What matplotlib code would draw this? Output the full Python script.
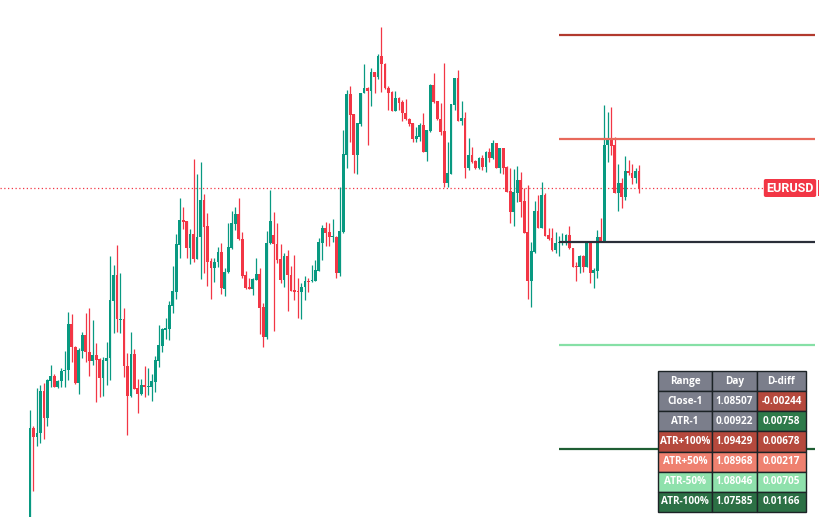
import matplotlib.pyplot as plt
from matplotlib.patches import Rectangle

# EURUSD candles
opens = [1.07260, 1.07679, 1.07639, 1.07656, 1.07843, 1.07723, 1.07888, 1.07910, 1.07861, 1.07888,
         1.07932, 1.07937, 1.08142, 1.08039, 1.07879, 1.08022, 1.08093, 1.08017, 1.07977, 1.08004,
         1.07986, 1.07901, 1.07977, 1.07990, 1.08244, 1.08360, 1.08160, 1.08164, 1.07955, 1.07821,
         1.08008, 1.07857, 1.07830, 1.07870, 1.07861, 1.07861, 1.07884, 1.07977, 1.08044, 1.08115,
         1.08120, 1.08222, 1.08284, 1.08494, 1.08605, 1.08601, 1.08480, 1.08543, 1.08431, 1.08529,
         1.08694, 1.08578, 1.08422, 1.08391, 1.08418, 1.08463, 1.08298, 1.08373, 1.08480, 1.08587,
         1.08632, 1.08520, 1.08360, 1.08307, 1.08298, 1.08338, 1.08365, 1.08218, 1.08084, 1.08503,
         1.08538, 1.08498, 1.08431, 1.08338, 1.08445, 1.08360, 1.08293, 1.08289, 1.08284, 1.08307,
         1.08333, 1.08333, 1.08333, 1.08378, 1.08503, 1.08570, 1.08552, 1.08529, 1.08529, 1.08369,
         1.08552, 1.08895, 1.09166, 1.09077, 1.08895, 1.09033, 1.09171, 1.09193, 1.09180, 1.09264,
         1.09242, 1.09336, 1.09300, 1.09193, 1.09175, 1.09091, 1.09148, 1.09131, 1.09082, 1.09055,
         1.09037, 1.08966, 1.08975, 1.09028, 1.08908, 1.09002, 1.09206, 1.09135, 1.09055, 1.09002,
         1.08770, 1.08810, 1.09117, 1.09238, 1.09046, 1.09060, 1.08837, 1.08895, 1.08868, 1.08837,
         1.08881, 1.08841, 1.08908, 1.08881, 1.08948, 1.08837, 1.08926, 1.08841, 1.08734, 1.08641,
         1.08725, 1.08783, 1.08690, 1.08552, 1.08333, 1.08463, 1.08645, 1.08570, 1.08716, 1.08538,
         1.08525, 1.08472, 1.08503, 1.08503, 1.08503, 1.08538, 1.08480, 1.08400, 1.08396, 1.08445,
         1.08396, 1.08503, 1.08369, 1.08378, 1.08529, 1.08511, 1.08939, 1.08961, 1.08939, 1.08725,
         1.08770, 1.08708, 1.08823, 1.08814, 1.08792, 1.08823]
highs = [1.07759, 1.07688, 1.07857, 1.07870, 1.07879, 1.07897, 1.07959, 1.07919, 1.07892, 1.07946,
         1.08022, 1.08195, 1.08186, 1.08044, 1.08035, 1.08106, 1.08191, 1.08213, 1.08160, 1.08057,
         1.07990, 1.07995, 1.08062, 1.08445, 1.08405, 1.08494, 1.08369, 1.08213, 1.08013, 1.08106,
         1.08031, 1.07897, 1.07897, 1.07955, 1.07946, 1.07919, 1.07999, 1.08137, 1.08124, 1.08169,
         1.08244, 1.08400, 1.08543, 1.08703, 1.08663, 1.08601, 1.08565, 1.08877, 1.08810, 1.08863,
         1.08721, 1.08636, 1.08436, 1.08436, 1.08485, 1.08503, 1.08391, 1.08592, 1.08645, 1.08663,
         1.08703, 1.08552, 1.08378, 1.08347, 1.08347, 1.08436, 1.08391, 1.08235, 1.08556, 1.08739,
         1.08641, 1.08592, 1.08498, 1.08458, 1.08472, 1.08400, 1.08449, 1.08347, 1.08325, 1.08356,
         1.08347, 1.08405, 1.08427, 1.08525, 1.08583, 1.08596, 1.08592, 1.08610, 1.08534, 1.08752,
         1.09006, 1.09184, 1.09202, 1.09077, 1.09037, 1.09171, 1.09300, 1.09198, 1.09282, 1.09264,
         1.09344, 1.09465, 1.09304, 1.09202, 1.09180, 1.09180, 1.09153, 1.09140, 1.09144, 1.09060,
         1.09037, 1.09019, 1.09037, 1.09082, 1.09006, 1.09211, 1.09260, 1.09135, 1.09126, 1.09304,
         1.08952, 1.09122, 1.09238, 1.09273, 1.09135, 1.09086, 1.08970, 1.08930, 1.08872, 1.08886,
         1.08895, 1.08912, 1.08926, 1.08961, 1.08948, 1.08926, 1.08926, 1.08846, 1.08837, 1.08832,
         1.08846, 1.08819, 1.08748, 1.08761, 1.08507, 1.08690, 1.08716, 1.08774, 1.08725, 1.08570,
         1.08570, 1.08552, 1.08534, 1.08547, 1.08543, 1.08578, 1.08480, 1.08418, 1.08449, 1.08449,
         1.08507, 1.08503, 1.08391, 1.08561, 1.08614, 1.09117, 1.09086, 1.09108, 1.08975, 1.08855,
         1.08792, 1.08890, 1.08872, 1.08855, 1.08837, 1.08850]
lows = [1.07233, 1.07398, 1.07598, 1.07612, 1.07630, 1.07688, 1.07861, 1.07861, 1.07857, 1.07861,
        1.07861, 1.07892, 1.07973, 1.07875, 1.07830, 1.07990, 1.07973, 1.07910, 1.07959, 1.07794,
        1.07817, 1.07821, 1.07870, 1.07892, 1.08102, 1.08106, 1.08102, 1.07906, 1.07648, 1.07817,
        1.07852, 1.07746, 1.07826, 1.07817, 1.07826, 1.07799, 1.07839, 1.07950, 1.08017, 1.08075,
        1.08071, 1.08191, 1.08253, 1.08436, 1.08565, 1.08436, 1.08409, 1.08418, 1.08431, 1.08342,
        1.08369, 1.08311, 1.08253, 1.08329, 1.08396, 1.08275, 1.08267, 1.08369, 1.08476, 1.08561,
        1.08516, 1.08347, 1.08298, 1.08298, 1.08271, 1.08338, 1.08097, 1.08039, 1.08075, 1.08498,
        1.08111, 1.08414, 1.08324, 1.08307, 1.08200, 1.08289, 1.08249, 1.08169, 1.08164, 1.08249,
        1.08284, 1.08329, 1.08333, 1.08378, 1.08427, 1.08489, 1.08489, 1.08507, 1.08347, 1.08356,
        1.08547, 1.08837, 1.08952, 1.08814, 1.08810, 1.09024, 1.09171, 1.08939, 1.09113, 1.09171,
        1.09233, 1.09175, 1.09189, 1.09095, 1.09091, 1.09091, 1.09095, 1.09046, 1.09051, 1.09024,
        1.08952, 1.08952, 1.08957, 1.08908, 1.08868, 1.08997, 1.09126, 1.09051, 1.08984, 1.08752,
        1.08752, 1.08810, 1.09095, 1.09046, 1.09028, 1.08792, 1.08828, 1.08859, 1.08832, 1.08832,
        1.08828, 1.08819, 1.08863, 1.08877, 1.08837, 1.08814, 1.08810, 1.08730, 1.08592, 1.08578,
        1.08685, 1.08618, 1.08547, 1.08253, 1.08218, 1.08458, 1.08570, 1.08570, 1.08534, 1.08516,
        1.08467, 1.08458, 1.08445, 1.08494, 1.08494, 1.08476, 1.08396, 1.08333, 1.08369, 1.08373,
        1.08396, 1.08325, 1.08302, 1.08347, 1.08507, 1.08507, 1.08863, 1.08895, 1.08725, 1.08645,
        1.08659, 1.08694, 1.08806, 1.08766, 1.08770, 1.08725]
closes = [1.07679, 1.07639, 1.07656, 1.07843, 1.07723, 1.07892, 1.07910, 1.07861, 1.07888, 1.07932,
          1.07937, 1.08142, 1.08039, 1.07879, 1.08026, 1.08093, 1.08017, 1.07977, 1.08004, 1.07982,
          1.07901, 1.07982, 1.07990, 1.08249, 1.08360, 1.08164, 1.08164, 1.07955, 1.07821, 1.08008,
          1.07852, 1.07830, 1.07870, 1.07861, 1.07866, 1.07888, 1.07982, 1.08048, 1.08120, 1.08124,
          1.08226, 1.08289, 1.08498, 1.08605, 1.08596, 1.08480, 1.08543, 1.08431, 1.08529, 1.08694,
          1.08574, 1.08418, 1.08391, 1.08418, 1.08463, 1.08302, 1.08373, 1.08485, 1.08592, 1.08632,
          1.08520, 1.08356, 1.08302, 1.08298, 1.08342, 1.08365, 1.08213, 1.08084, 1.08503, 1.08601,
          1.08498, 1.08427, 1.08338, 1.08445, 1.08360, 1.08289, 1.08284, 1.08284, 1.08307, 1.08333,
          1.08329, 1.08338, 1.08382, 1.08507, 1.08570, 1.08547, 1.08529, 1.08534, 1.08369, 1.08556,
          1.08899, 1.09166, 1.09073, 1.08895, 1.09037, 1.09171, 1.09193, 1.09180, 1.09264, 1.09242,
          1.09336, 1.09300, 1.09193, 1.09171, 1.09091, 1.09148, 1.09126, 1.09082, 1.09055, 1.09033,
          1.08966, 1.08979, 1.09028, 1.08908, 1.09006, 1.09206, 1.09131, 1.09055, 1.08997, 1.08770,
          1.08814, 1.09122, 1.09238, 1.09046, 1.09060, 1.08837, 1.08895, 1.08863, 1.08837, 1.08881,
          1.08841, 1.08908, 1.08881, 1.08948, 1.08837, 1.08926, 1.08837, 1.08730, 1.08641, 1.08730,
          1.08783, 1.08685, 1.08547, 1.08333, 1.08467, 1.08645, 1.08570, 1.08716, 1.08534, 1.08520,
          1.08472, 1.08503, 1.08507, 1.08507, 1.08538, 1.08480, 1.08396, 1.08396, 1.08445, 1.08396,
          1.08503, 1.08369, 1.08382, 1.08529, 1.08511, 1.08939, 1.08961, 1.08935, 1.08725, 1.08770,
          1.08708, 1.08823, 1.08814, 1.08792, 1.08823, 1.08748]

# daily range table
range_names = ["Close-1", "ATR-1", "ATR+100%", "ATR+50%", "ATR-50%", "ATR-100%"]
day_values = ["1.08507", "0.00922", "1.09429", "1.08968", "1.08046", "1.07585"]
ddiff_values = ["-0.00244", "0.00758", "0.00678", "0.00217", "0.00705", "0.01166"]
level_names = ["Close-1", "ATR+100%", "ATR+50%", "ATR-50%", "ATR-100%"]
levels = [1.08507, 1.09429, 1.08968, 1.08046, 1.07585]
symbol = "EURUSD"

up_col = "#089981"
down_col = "#f23645"
level_cols = {"Close-1": "#2a2e39", "ATR+100%": "#b23a2e", "ATR+50%": "#e8695b",
              "ATR-50%": "#86e0a6", "ATR-100%": "#1f5e33"}
gray = "#7b7e8b"
row_cols = [None, None, "#b5493d", "#ef8170", "#8fe1ac", "#2c7045"]
ddiff_cols = ["#b5493d", "#2e7a4a", "#b5493d", "#ef8170", "#8fe1ac", "#2c7045"]

fig = plt.figure(figsize=(8.2, 5.17), dpi=100)
ax = fig.add_axes([0, 0, 1, 1])
ax.set_axis_off()

n = len(closes)
x = list(range(n))
cols = [up_col if c >= o else down_col for o, c in zip(opens, closes)]
bottoms = [min(o, c) for o, c in zip(opens, closes)]
heights = [max(abs(c - o), 0.00003) for o, c in zip(opens, closes)]

ax.vlines(x, lows, highs, colors=cols, linewidth=0.9, zorder=2)
ax.bar(x, heights, bottom=bottoms, width=0.8, color=cols, linewidth=0, zorder=3)

ax.set_xlim(-8.62, 227.0)
ax.set_ylim(1.07282, 1.09585)

# daily levels
for name, lv in zip(level_names, levels):
    ax.hlines(lv, 152.0, 225.6, colors=level_cols[name], linewidth=1.6, zorder=4)

# last price line + label
last = closes[-1]
ax.hlines(last, -8.62, 211.2, colors=down_col, linestyles=(0, (1, 2)), linewidth=0.9, zorder=1)
fig.text(790 / 820, 1 - 188 / 517, symbol, ha="center", va="center", color="white",
         fontsize=9, fontweight="bold", fontfamily="Roboto",
         bbox=dict(boxstyle="round,pad=0.2,rounding_size=0.15", facecolor=down_col, edgecolor="none"))
fig.patches.append(Rectangle((818 / 820, 1 - 196 / 517), 4 / 820, 16 / 517,
                             transform=fig.transFigure, facecolor=down_col, edgecolor="none"))

# table
col_edges = [658, 712, 757, 806]
top = 371
rh = 20.15
header = ["Range", "Day", "D-diff"]
rows = [header] + [[a, b, c] for a, b, c in zip(range_names, day_values, ddiff_values)]
for r, row in enumerate(rows):
    for c, txt in enumerate(row):
        if r == 0:
            fc = gray
        else:
            rc = row_cols[r - 1]
            if c == 2:
                fc = ddiff_cols[r - 1]
            else:
                fc = rc if rc else gray
        x0 = col_edges[c]
        w = col_edges[c + 1] - x0
        y0 = top + r * rh
        fig.patches.append(Rectangle((x0 / 820, 1 - (y0 + rh) / 517), w / 820, rh / 517,
                                     transform=fig.transFigure, facecolor=fc,
                                     edgecolor="#1c2326", linewidth=1.0))
        fig.text((x0 + w / 2) / 820, 1 - (y0 + rh / 2) / 517, txt, ha="center", va="center",
                 color="white", fontsize=7.2, fontweight="bold", fontfamily="Open Sans")

fig.savefig("out.png", dpi=100, facecolor="white")
